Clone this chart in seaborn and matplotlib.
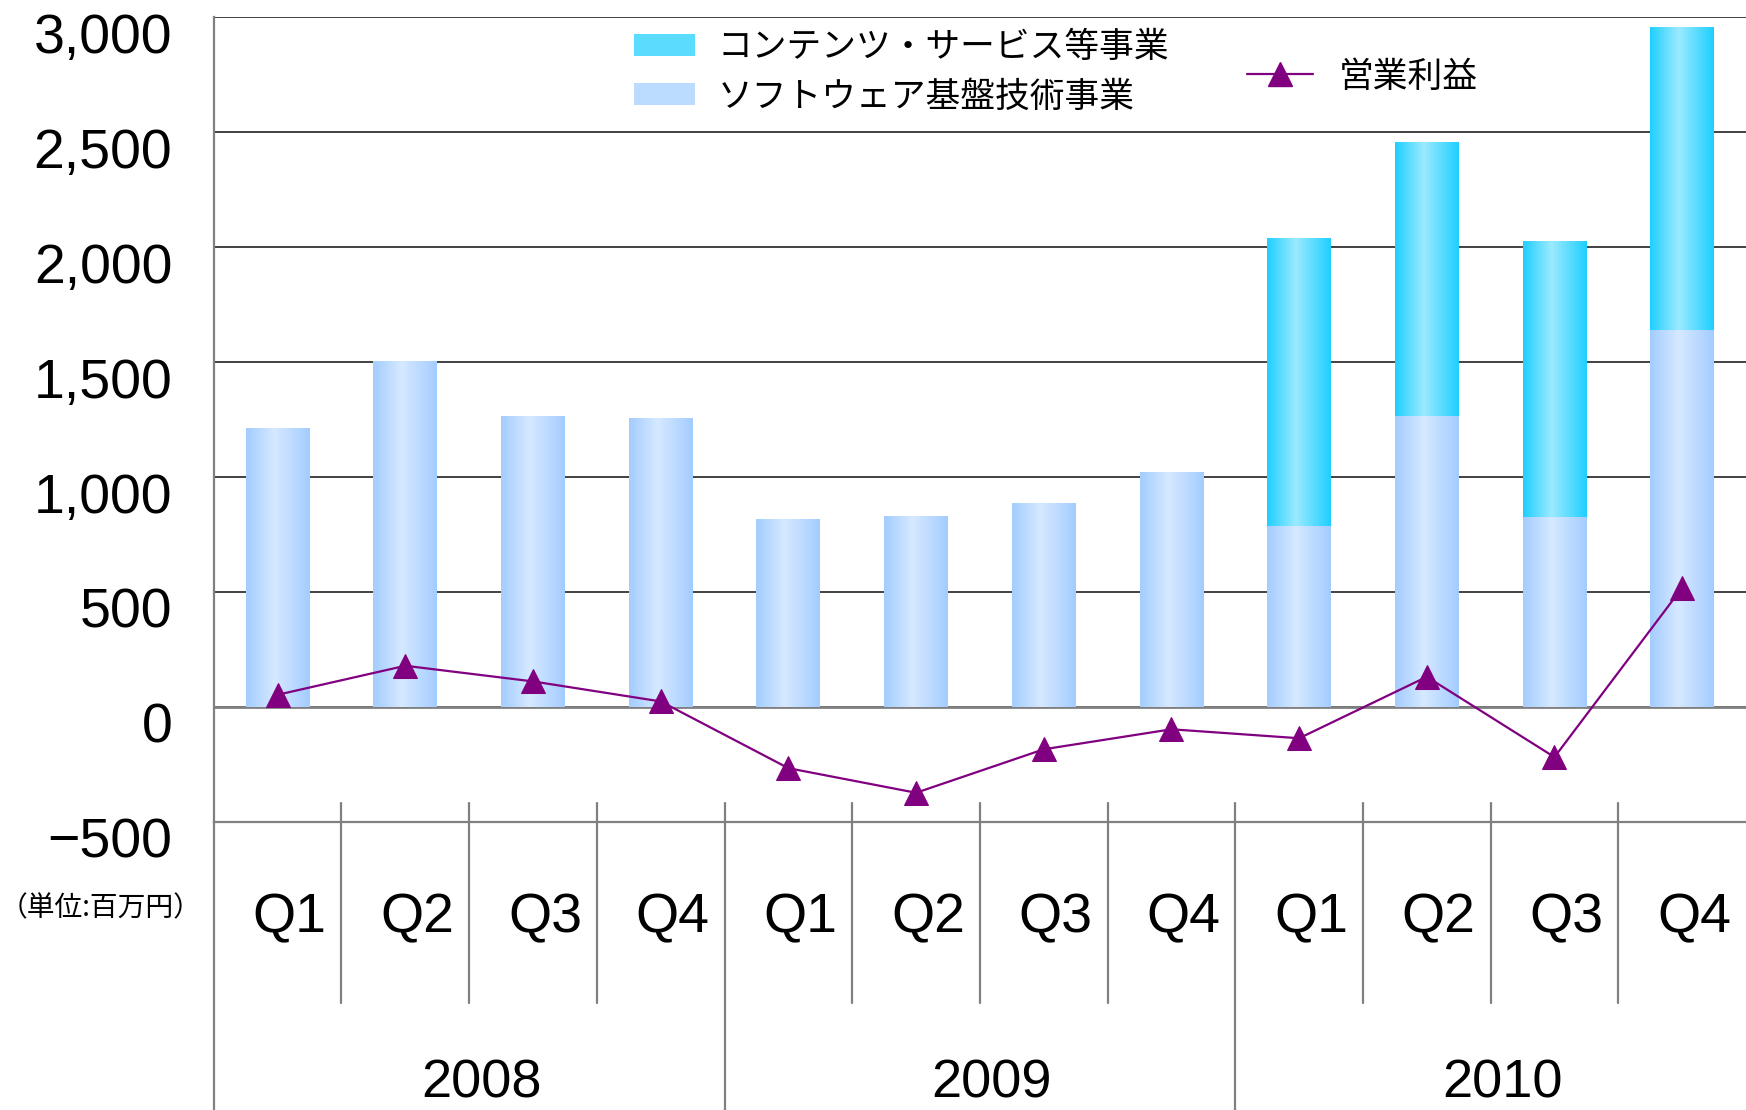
import numpy as np
import pandas as pd
import matplotlib
matplotlib.use("Agg")
import matplotlib.pyplot as plt
import matplotlib.transforms as mtransforms
from matplotlib.colors import LinearSegmentedColormap
from matplotlib.patches import Patch
from matplotlib.lines import Line2D
from matplotlib.ticker import FuncFormatter
import seaborn as sns

# data (millions of yen)
years = ["2008", "2009", "2010"]
quarters = ["Q1", "Q2", "Q3", "Q4"]
software = [1210, 1500, 1263, 1254, 813, 828, 886, 1021, 784, 1263, 823, 1636]
contents = [0, 0, 0, 0, 0, 0, 0, 0, 1254, 1191, 1200, 1317]
profit = [53, 179, 111, 24, -266, -373, -184, -97, -136, 131, -218, 518]

lbl_contents = "コンテンツ・サービス等事業"
lbl_software = "ソフトウェア基盤技術事業"
lbl_profit = "営業利益"
unit_label = "（単位:百万円）"

sns.set_style("white")
plt.rcParams["font.family"] = ["Liberation Sans", "Noto Sans CJK JP", "DejaVu Sans"]
plt.rcParams["text.color"] = "black"
plt.rcParams["ytick.labelcolor"] = "black"
jp = ["Noto Sans CJK JP", "DejaVu Sans"]

periods = [f"{y}{q}" for y in years for q in quarters]
df = pd.DataFrame({"period": periods, "software": software, "contents": contents, "profit": profit})
df["total"] = df["software"] + df["contents"]

fig = plt.figure(figsize=(17.46, 11.10), dpi=100)
ax = fig.add_axes([213.8 / 1746, 1 - 822 / 1110, 1 - 213.8 / 1746, (822 - 16.7) / 1110])

sns.barplot(data=df, x="period", y="total", order=periods, color="#5ADCFF", width=0.5, errorbar=None, ax=ax)
sns.barplot(data=df, x="period", y="software", order=periods, color="#BBDBFF", width=0.5, errorbar=None, ax=ax)
sns.lineplot(x=np.arange(len(periods)), y=df["profit"], color="#800080", marker="^", markersize=17,
             markeredgecolor="#800080", linewidth=1.6, ax=ax, zorder=5)


def gradient(patch, edge, mid, z):
    x0, w = patch.get_x(), patch.get_width()
    y0, h = patch.get_y(), patch.get_height()
    if h <= 0:
        return
    cmap = LinearSegmentedColormap.from_list("g", [(0, edge), (0.45, mid), (1, edge)])
    ax.imshow(np.linspace(0, 1, 256)[None, :], cmap=cmap, extent=(x0, x0 + w, y0, y0 + h),
              aspect="auto", zorder=z, interpolation="bilinear")
    patch.set_visible(False)


n = len(periods)
for p in ax.patches[:n]:
    gradient(p, "#1ECFFF", "#9CEAFF", 2)
for p in ax.patches[n:2 * n]:
    gradient(p, "#A3CCFF", "#D6E9FF", 3)

ax.set_xlim(-0.5, n - 0.5)
ax.set_ylim(-500, 3000)
ax.set_yticks(np.arange(-500, 3001, 500))
ax.yaxis.set_major_formatter(FuncFormatter(lambda v, _: f"{v:,.0f}".replace("-", "\u2212")))
ax.tick_params(axis="y", direction="in", length=13, width=1.5, color="#222222", labelsize=40, pad=30,
               labelcolor="black")
# tick labels sit a little below their gridlines in the reference
shift = mtransforms.ScaledTranslation(0, -0.16, fig.dpi_scale_trans)
for t in ax.yaxis.get_major_ticks():
    t.label1.set_transform(t.label1.get_transform() + shift)
ax.set_xticks([])
ax.set_xlabel("")
ax.set_ylabel("")
ax.grid(axis="y", color="#333333", linewidth=1.3, zorder=0)
ax.set_axisbelow(True)
ax.axhline(0, color="#808080", linewidth=2, zorder=1)
for s in ["top", "right"]:
    ax.spines[s].set_visible(False)
ax.spines["bottom"].set_color("#808080")
ax.spines["bottom"].set_linewidth(1.6)
ax.spines["left"].set_color("#808080")
ax.spines["left"].set_linewidth(1.6)

# multi-level category axis
trans = mtransforms.blended_transform_factory(ax.transData, ax.transAxes)
lab_trans = trans + mtransforms.ScaledTranslation(0.12, 0, fig.dpi_scale_trans)
fig_bottom = -(1110 - 822) / (822 - 16.7)
for i, q in enumerate(quarters * len(years)):
    ax.text(i, -0.12, q, transform=lab_trans, ha="center", va="center", fontsize=40)
for k, y in enumerate(years):
    ax.text(k * 4 + 1.5, -0.325, y, transform=lab_trans, ha="center", va="center", fontsize=39)
for b in np.arange(0.5, n - 0.5, 1.0):
    end = fig_bottom if int(b + 0.5) % 4 == 0 else -0.225
    ax.plot([b, b], [0.0236, end], transform=trans, color="#808080", linewidth=1.6, clip_on=False)
ax.plot([-0.5, -0.5], [0, fig_bottom], transform=trans, color="#808080", linewidth=1.6, clip_on=False)

fig.text(0, 1 - 908 / 1110, unit_label, fontsize=20, family=jp, ha="left", va="center")

# legends
bar_handles = [Patch(facecolor="#5ADCFF", edgecolor="none"), Patch(facecolor="#BBDBFF", edgecolor="none")]
fig.legend(bar_handles, [lbl_contents, lbl_software], loc="upper left",
           bbox_to_anchor=(634 / 1746, 1 - 30 / 1110), frameon=False, borderpad=0, borderaxespad=0,
           handlelength=1.75, handleheight=0.6, handletextpad=0.65, labelspacing=0.42,
           prop={"family": jp, "size": 25})
line_handle = [Line2D([], [], color="#800080", marker="^", markersize=17, linewidth=1.6)]
fig.legend(line_handle, [lbl_profit], loc="center left", bbox_to_anchor=(1247 / 1746, 1 - 77 / 1110),
           frameon=False, borderpad=0, borderaxespad=0, handlelength=1.9, handletextpad=0.75,
           prop={"family": jp, "size": 25})

fig.savefig("out.png", dpi=100)
